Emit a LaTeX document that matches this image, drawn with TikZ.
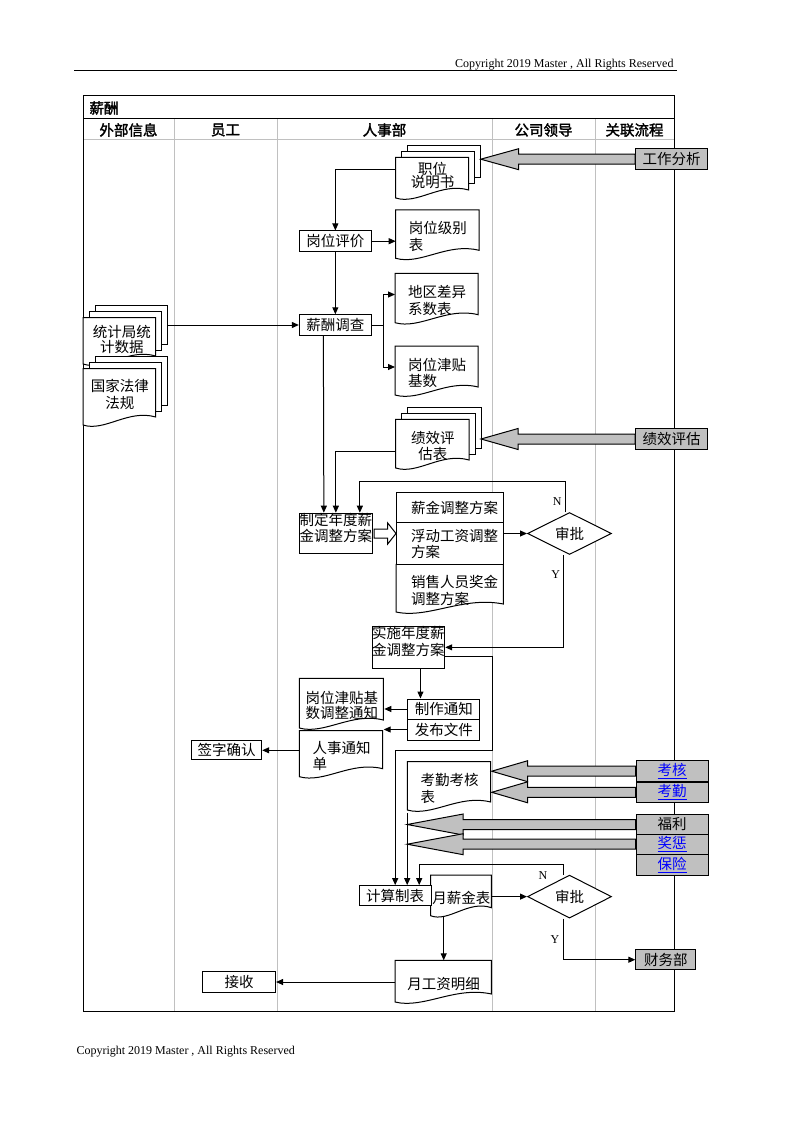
\documentclass[tikz,border=0pt]{standalone}
\usepackage{fontspec}
\setmainfont{Noto Sans CJK SC}
\newfontfamily\hdfont[FakeBold=2]{Noto Sans CJK SC}
\newfontfamily\enfont{Liberation Serif}
\usetikzlibrary{shapes.geometric,arrows.meta,calc}

\definecolor{relgray}{RGB}{192,192,192}
\definecolor{lanegray}{RGB}{192,192,192}
\definecolor{linkblue}{RGB}{0,0,255}

\newcommand{\cfs}{\fontsize{14.5pt}{16.5pt}\selectfont}
\newcommand{\ind}{\hspace*{9pt}}
\newcommand{\lnk}[1]{\textcolor{linkblue}{\underline{#1}}}
\newcommand{\twoline}[3]{\parbox[c][#1][t]{#2}{\centering #3}}

\newcommand{\docnode}[7][]{%
  \draw[docline] (#3,#4) -- (#5,#4) -- (#5,#6-8)
    .. controls ({#3+0.62*(#5-#3)},#6-16) and ({#3+0.3*(#5-#3)},#6+7) .. (#3,#6) -- cycle;
  \node[doctext,minimum width={#5pt-#3pt},minimum height={#6pt-#4pt+4pt},anchor=north west,#1] (#2) at (#3,#4) {#7};}

\newcommand{\stackdoc}[7][]{%
  \foreach \k in {2,1}
    \draw[docline] ({#3+6*\k},{#4-6*\k}) rectangle ({#5+6*\k},{#6-8-6*\k});
  \coordinate (#2-back) at ({#5+12},{#4-12});
  \docnode[#1]{#2}{#3}{#4}{#5}{#6}{#7}}

\newcommand{\bigarrow}[3]{%
  \draw[bigarr] ($(#1.west)+(0,-5)$) -- ($(#2)+(#3,-5)$) -- ($(#2)+(#3,-10.5)$) -- (#2)
    -- ($(#2)+(#3,10.5)$) -- ($(#2)+(#3,5)$) -- ($(#1.west)+(0,5)$) -- cycle;}

\begin{document}
\begin{tikzpicture}[x=1pt,y=-1pt,line width=1pt,
    >={Triangle[length=7pt,width=6pt]},
    box/.style={draw,fill=white,inner sep=0pt,minimum width=72pt,minimum height=20.5pt,font=\cfs},
    relbox/.style={draw,fill=relgray,inner sep=0pt,minimum width=72pt,minimum height=20.5pt,font=\cfs,anchor=west},
    docline/.style={draw,fill=white},
    doctext/.style={inner sep=0pt,align=center,font=\cfs},
    lane/.style={draw=lanegray},
    bigarr/.style={draw,fill=relgray},
    hollowarr/.style={draw,fill=white},
    yn/.style={font=\enfont\fontsize{12pt}{12pt}\selectfont,inner sep=0pt},
    decision/.style={diamond,draw,fill=white,inner sep=0pt,aspect=2,minimum width=84pt,minimum height=42pt,font=\cfs},
    head/.style={font=\hdfont\fontsize{14.5pt}{16pt}\selectfont,inner sep=0pt},
    copy/.style={font=\enfont\fontsize{12pt}{12pt}\selectfont,inner sep=0pt}]

  \useasboundingbox (0,0) rectangle (794,1123);

  \node[copy,anchor=base east] (crtop) at (674,67.5) {Copyright 2019 Master , All Rights Reserved};
  \draw (74,71) -- (677,71);
  \node[copy,anchor=base west] (crbot) at (76,1054) {Copyright 2019 Master , All Rights Reserved};

  \foreach \x in {174,277,492,595}
    \draw[lane] (\x,119) -- (\x,1011);
  \draw[lane] (83,140) -- (674,140);
  \draw (83,96) rectangle (674,1011);
  \draw (83,119) -- (674,119);

  \begin{scope}[every node/.style={head}]
    \node[anchor=west] (title) at (89,108) {薪酬};
    \node (hwb) at (128.5,130) {外部信息};
    \node (hyg) at (225.5,130) {员工};
    \node (hrs) at (384.5,130) {人事部};
    \node (hld) at (543.5,130) {公司领导};
    \node (hgl) at (634.5,130) {关联流程};
  \end{scope}

  \stackdoc[minimum height=35pt]{zwsm}{395.7}{157.3}{468.7}{198}{职位\\[-3pt]说明书}
  \docnode[align=left]{gwjb}{395.7}{210}{479}{258.3}{岗位级别\\表}
  \docnode[align=left]{dqcy}{395}{273.3}{478}{322.7}{地区差异\\系数表}
  \docnode[align=left]{gwjt}{395}{346}{478}{395}{岗位津贴\\基数}
  \stackdoc[minimum height=42.6pt]{tjj}{83}{317.7}{155.7}{364}{\hspace*{4pt}统计局统\\[-1pt]\hspace*{4pt}计数据}
  \stackdoc[minimum height=50pt]{gjfl}{83}{368.7}{155.7}{425}{国家法律\\法规}
  \stackdoc{jxb}{395.7}{419.3}{469}{468}{绩效评\\估表}
  \docnode[align=left]{xsjj}{396}{564.3}{503.3}{612}{\ind 销售人员奖金\\\ind 调整方案}
  \docnode{gwtz}{299.3}{678.3}{383.3}{728}{岗位津贴基\\[-2pt]数调整通知}
  \docnode[align=left]{rstz}{299.3}{730.7}{382.7}{776.7}{人事通知\\单}
  \docnode[align=left]{kqkhb}{407.3}{761.7}{490.7}{810}{考勤考核\\表}
  \docnode{yxjb}{430.5}{875.2}{491.4}{915.7}{月薪金表}
  \docnode{ygzmx}{395}{960.3}{491.4}{1002}{月工资明细}

  \begin{scope}[every node/.style={box}]
    \node (gwpj) at (335.35,241.2) {岗位评价};
    \node (xcdc) at (335.35,325) {薪酬调查};
    \node[anchor=north west] (zdfa) at (299,512.7) {\twoline{40.6pt}{72.7pt}{制定年度薪\\金调整方案}};
    \node[anchor=north west,minimum width=107.3pt,minimum height=30.6pt,align=left] (xjtz) at (396,491.7) {\ind 薪金调整方案};
    \node[anchor=north west,minimum width=107.3pt,minimum height=42pt,align=left] (fdgz) at (396,522.3) {\ind 浮动工资调整\\\ind 方案};
    \node[anchor=north west] (ssfa) at (371.7,626) {\twoline{41.7pt}{72.5pt}{实施年度薪\\金调整方案}};
    \node[minimum height=20pt] (zztz) at (443.95,709) {制作通知};
    \node[minimum height=21pt] (fbwj) at (443.95,729.5) {发布文件};
    \node[minimum width=70pt,minimum height=19.3pt] (qzqr) at (226.7,750.3) {签字确认};
    \node[minimum height=20.3pt] (jszb) at (395.2,895.8) {计算制表};
    \node[minimum width=72.7pt,minimum height=21pt] (js) at (239.2,982) {接收};
  \end{scope}

  \node[decision] (sp1) at (569.5,533.5) {审批};
  \node[decision,minimum height=43pt] (sp2) at (569.5,896.6) {审批};

  \begin{scope}[every node/.style={relbox}]
    \node (gzfx) at (635,159.2) {工作分析};
    \node (jxpg) at (635,439) {绩效评估};
    \node[minimum height=21pt] (kh) at (635.7,771.2) {\lnk{考核}};
    \node[minimum height=20pt] (kq) at (635.7,792.3) {\lnk{考勤}};
    \node[minimum height=19.5pt] (fl) at (635.7,824.5) {福利};
    \node[minimum height=20pt] (jc) at (635.7,844.2) {\lnk{奖惩}};
    \node[minimum height=21pt] (bx) at (635.7,865) {\lnk{保险}};
    \node[minimum width=60pt,minimum height=20.3pt] (cwb) at (635.3,959.7) {财务部};
  \end{scope}

  \coordinate (tipgz) at (zwsm-back |- gzfx.west);
  \coordinate (tipjx) at (jxb-back |- jxpg.west);
  \coordinate (tipkh) at (kqkhb.east |- kh.west);
  \coordinate (tipkq) at (kqkhb.east |- kq.west);
  \coordinate (jsin) at ([xshift=12pt]jszb.north);
  \coordinate (tipfl) at (jsin |- fl.west);
  \coordinate (tipjc) at (jsin |- jc.west);
  \coordinate (ssout) at ([xshift=12pt]ssfa.south);

  \bigarrow{gzfx}{tipgz}{38}
  \bigarrow{jxpg}{tipjx}{37}
  \bigarrow{kh}{tipkh}{36}
  \bigarrow{kq}{tipkq}{36}
  \bigarrow{fl}{tipfl}{56}
  \bigarrow{jc}{tipjc}{56}

  \draw[hollowarr] ($(zdfa.east)+(1.5,-4.5)$) -- ($(zdfa.east)+(15,-4.5)$) -- ($(zdfa.east)+(15,-10.5)$)
    -- (zdfa.east -| fdgz.west) -- ($(zdfa.east)+(15,10.5)$) -- ($(zdfa.east)+(15,4.5)$)
    -- ($(zdfa.east)+(1.5,4.5)$) -- cycle;

  \draw[->] ([yshift=5.5pt]zwsm.west) -| (gwpj.north);
  \draw[->] (gwpj.east) -- (gwpj.east -| gwjb.west);
  \draw[->] (gwpj.south) -- (xcdc.north);
  \draw[->] (tjj-back |- xcdc.west) -- (xcdc.west);
  \draw[->] (xcdc.east) -- ++(12,0) |- ([yshift=6pt]dqcy.west);
  \draw[->] (xcdc.east) -- ++(12,0) |- ([yshift=6pt]gwjt.west);
  \draw[->] ([xshift=-12pt]xcdc.south) -- ([xshift=-12pt]zdfa.north);
  \draw[->] ([yshift=-5pt]jxb.west) -| (zdfa.north);
  \draw[->] ([xshift=-4pt]sp1.north) -- ++(0,-31) -| ([xshift=24pt]zdfa.north);
  \draw[->] (fdgz.east |- sp1.west) -- (sp1.west);
  \draw[->] ([xshift=-6pt]sp1.south) |- (ssfa.east);
  \draw[->] (ssout) -- (ssout |- zztz.north);
  \draw[->] (zztz.west) -- (zztz.west -| gwtz.east);
  \draw[->] (fbwj.west) -- (fbwj.west -| rstz.east);
  \draw[->] (rstz.west |- qzqr.east) -- (qzqr.east);
  \draw[->] ([yshift=-9pt]ssfa.east) -- ++(47,0) -- ++(0,94) -| (jszb.north);
  \draw[->] (jsin) ++(0,-72) -- (jsin);
  \draw[->] ([xshift=-6pt]sp2.north) -- ++(0,-10) -| ([xshift=24pt]jszb.north);
  \draw[->] (yxjb.east |- sp2.west) -- (sp2.west);
  \draw[->] ([xshift=-6pt]sp2.south) |- (cwb.west);
  \draw[->] (ygzmx.north |- yxjb.south) ++(0,-4) -- (ygzmx.north);
  \draw[->] (ygzmx.west |- js.east) -- (js.east);

  \node[yn] (n1) at (557.3,502) {N};
  \node[yn] (y1) at (555.7,575) {Y};
  \node[yn] (n2) at (543,875.2) {N};
  \node[yn] (y2) at (555,939.4) {Y};

\end{tikzpicture}
\end{document}
